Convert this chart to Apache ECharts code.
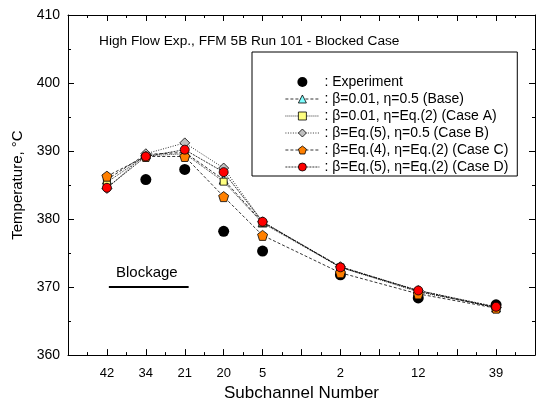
<!DOCTYPE html>
<html>
<head>
<meta charset="utf-8">
<script src="https://cdn.jsdelivr.net/npm/echarts@6/dist/echarts.min.js"></script>
<style>
  html, body { margin: 0; padding: 0; background: #fff; }
  #chart { width: 538px; height: 407px; }
</style>
</head>
<body>
<div id="chart"></div>
<script>
// subchannel positions on the x axis and their labels
const positions = [1, 2, 3, 4, 5, 7, 9, 11];
const subchannels = ["42", "34", "21", "20", "5", "2", "12", "39"];

const experiment = [null, 385.8, 387.3, 378.2, 375.3, 371.8, 368.4, 367.4];
const caseBase = [385.8, 389.5, 389.8, 385.8, 379.5, 373.0, 369.4, 367.0];
const caseA = [385.4, 389.3, 389.6, 385.5, 379.4, 372.9, 369.3, 367.0];
const caseB = [384.5, 389.6, 391.2, 387.5, 379.6, 373.0, 369.5, 367.0];
const caseC = [386.3, 389.2, 389.2, 383.3, 377.6, 372.1, 369.0, 366.9];
const caseD = [384.6, 389.2, 390.2, 386.9, 379.6, 372.9, 369.5, 367.1];

const blockageX = [1.05, 3.1];
const blockageY = 370;

const FONT = "Arial, 'Liberation Sans', sans-serif";
const PENTAGON = "path://M0,-1 L0.951,-0.309 L0.588,0.809 L-0.588,0.809 L-0.951,-0.309 Z";

const labelMap = {};
positions.forEach((p, i) => (labelMap[p] = subchannels[i]));

function pairs(values) {
  return positions.map((p, i) => [p, values[i]]);
}

const sims = [
  { name: "β=0.01, η=0.5 (Base)", values: caseBase, symbol: "triangle", size: 9, color: "#80ffff", dash: [3, 2] },
  { name: "β=0.01, η=Eq.(2) (Case A)", values: caseA, symbol: "rect", size: 7, color: "#ffff80", dash: [1, 1] },
  { name: "β=Eq.(5), η=0.5 (Case B)", values: caseB, symbol: "diamond", size: 10, color: "#c0c0c0", dash: [1, 1.5] },
  { name: "β=Eq.(4), η=Eq.(2) (Case C)", values: caseC, symbol: PENTAGON, size: 10, color: "#ff8000", dash: [3, 2] },
  { name: "β=Eq.(5), η=Eq.(2) (Case D)", values: caseD, symbol: "circle", size: 9, color: "#ff0000", dash: [2, 1] },
];

const chart = echarts.init(document.getElementById("chart"));

const xCommon = {
  type: "value",
  min: 0,
  max: 12,
  interval: 1,
  axisLine: { show: true, onZero: false, lineStyle: { color: "#000", width: 1 } },
  axisTick: { show: true, inside: true, length: 6, lineStyle: { color: "#000" } },
  minorTick: { show: true, splitNumber: 2, length: 3, lineStyle: { color: "#000" } },
  splitLine: { show: false },
};
const yCommon = {
  type: "value",
  min: 360,
  max: 410,
  interval: 10,
  axisLine: { show: true, onZero: false, lineStyle: { color: "#000", width: 1 } },
  axisTick: { show: true, inside: true, length: 6, lineStyle: { color: "#000" } },
  minorTick: { show: true, splitNumber: 2, length: 3, lineStyle: { color: "#000" } },
  splitLine: { show: false },
};

chart.setOption({
  animation: false,
  textStyle: { fontFamily: FONT },
  title: {
    text: "High Flow Exp., FFM 5B Run 101 - Blocked Case",
    left: 94,
    top: 29,
    textStyle: { fontFamily: FONT, fontSize: 13.7, fontWeight: "normal", color: "#000" },
  },
  grid: { left: 68, top: 15, width: 472, height: 346 },
  legend: {
    data: [
      { name: "Experiment", itemStyle: { color: "#000", borderWidth: 0, opacity: 1 } },
    ].concat(
      sims.map((s) => ({
        name: s.name,
        itemStyle: { color: s.color, borderColor: "#000", borderWidth: 0.8 },
        lineStyle: { color: "#000", width: 0.8, type: s.dash },
      }))
    ),
    orient: "vertical",
    left: 252,
    top: 52,
    padding: [23, 9, 2, 33],
    itemWidth: 34,
    itemHeight: 10,
    itemGap: 3,
    borderColor: "#000",
    borderWidth: 1,
    selectedMode: false,
    formatter: (name) => ": " + name,
    textStyle: { fontFamily: FONT, fontSize: 14, color: "#000", lineHeight: 14 },
  },
  xAxis: [
    Object.assign({}, xCommon, {
      position: "bottom",
      name: "Subchannel Number",
      nameLocation: "middle",
      nameGap: 21,
      nameTextStyle: { fontFamily: FONT, fontSize: 17, color: "#000" },
      axisLabel: {
        color: "#000",
        fontSize: 13,
        fontFamily: FONT,
        margin: 12,
        formatter: (v) => labelMap[v] || "",
      },
    }),
    Object.assign({}, xCommon, { position: "top", axisLabel: { show: false } }),
  ],
  yAxis: [
    Object.assign({}, yCommon, {
      position: "left",
      name: "Temperature, °C",
      nameLocation: "middle",
      nameGap: 38,
      nameTextStyle: { fontFamily: FONT, fontSize: 15, color: "#000" },
      axisLabel: { color: "#000", fontSize: 14, fontFamily: FONT, margin: 8 },
    }),
    Object.assign({}, yCommon, { position: "right", axisLabel: { show: false } }),
  ],
  graphic: [
    {
      type: "text",
      left: 116,
      top: 265,
      style: { text: "Blockage", fontFamily: FONT, fontSize: 15, fill: "#000" },
    },
  ],
  series: [
    {
      name: "Blockage",
      type: "line",
      data: blockageX.map((x) => [x, blockageY]),
      symbol: "none",
      lineStyle: { color: "#000", width: 2 },
      emphasis: { disabled: true },
    },
    {
      name: "Experiment",
      type: "scatter",
      data: pairs(experiment).filter((d) => d[1] != null),
      symbol: "circle",
      symbolSize: 11,
      itemStyle: { color: "#000", opacity: 1 },
      emphasis: { disabled: true },
    },
  ].concat(
    sims.map((s) => ({
      name: s.name,
      type: "line",
      data: pairs(s.values),
      symbol: s.symbol,
      symbolSize: s.size,
      itemStyle: { color: s.color, borderColor: "#000", borderWidth: 0.8 },
      lineStyle: { color: "#000", width: 0.8, type: s.dash },
      emphasis: { disabled: true },
    }))
  ),
});
</script>
</body>
</html>
